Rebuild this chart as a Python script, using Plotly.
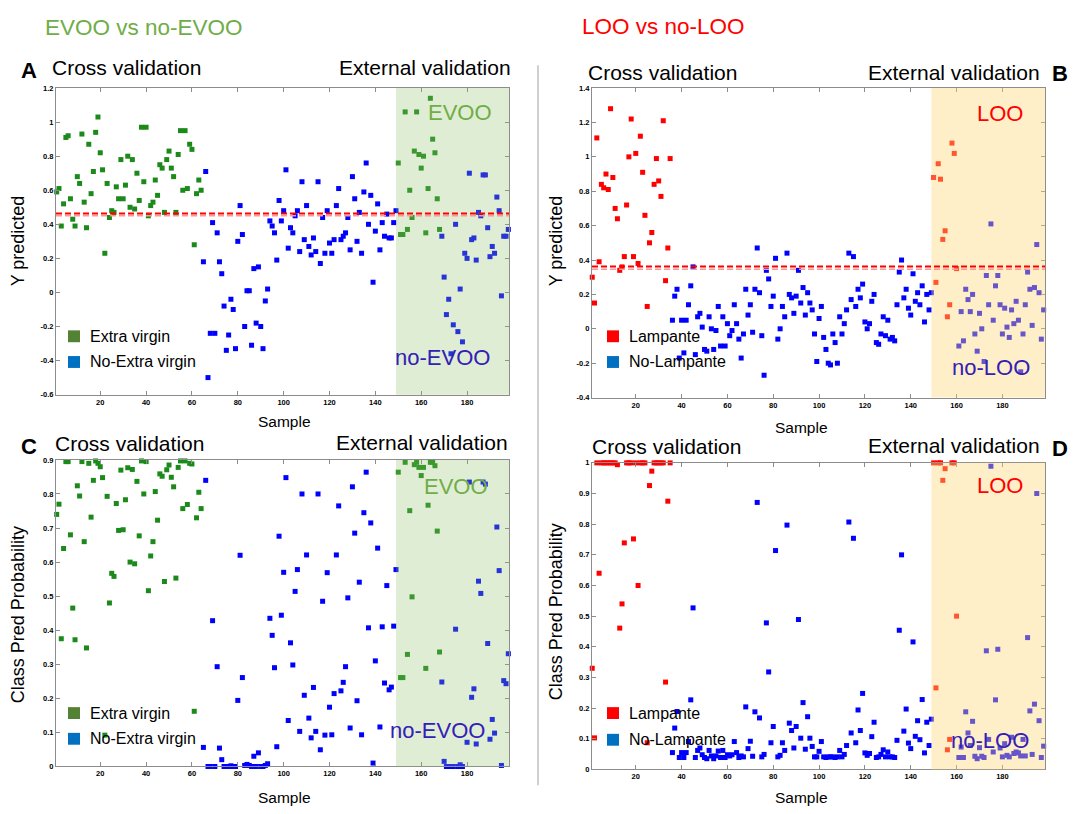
import plotly.graph_objects as go

W, H = 1078, 814

# ---------------- data ----------------
# Panel A : Y predicted (EVOO vs no-EVOO)
A_evoo_cv_x = list(range(1, 65))
A_evoo_cv_y = [0.59, 0.61, 0.39, 0.52, 0.91, 0.92, 0.55, 0.43, 0.39, 0.68,
               0.64, 0.93, 0.53, 0.38, 0.87, 0.58, 0.71, 0.94, 1.03, 0.82,
               0.72, 0.23, 0.64, 0.44, 0.48, 0.47, 0.62, 0.55, 0.78, 0.55,
               0.63, 0.80, 0.50, 0.78, 0.49, 0.70, 0.54, 0.97, 0.65, 0.97,
               0.45, 0.51, 0.53, 0.66, 0.57, 0.75, 0.73, 0.47, 0.78, 0.83,
               0.73, 0.68, 0.47, 0.81, 0.95, 0.60, 0.95, 0.61, 0.87, 0.84,
               0.28, 0.58, 0.66, 0.60]
A_no_cv_x = list(range(65, 150))
A_no_cv_y = [0.18, 0.71, -0.50, -0.24, 0.41, -0.24, 0.35, 0.18, 0.11, -0.08,
             -0.34, -0.25, -0.04, -0.10, -0.33, 0.30, 0.51, 0.34, -0.20, 0.01,
             0.01, -0.31, 0.14, -0.18, 0.15, -0.20, -0.33, -0.05, 0.02, 0.42,
             0.39, 0.35, 0.19, 0.54, 0.42, 0.48, 0.72, 0.26, 0.38, 0.35,
             0.45, 0.48, 0.24, 0.65, 0.31, 0.51, 0.27, 0.22, 0.32, 0.24,
             0.65, 0.17, 0.44, 0.23, 0.48, 0.29, 0.23, 0.31, 0.51, 0.61,
             0.31, 0.33, 0.35, 0.44, 0.25, 0.68, 0.55, 0.30, 0.47, 0.23,
             0.59, 0.76, 0.40, 0.57, 0.06, 0.36, 0.52, 0.25, 0.41, 0.33,
             0.46, 0.32, 0.32, 0.41, 0.48]
A_evoo_ext_x = list(range(150, 169))
A_evoo_ext_y = [0.76, 0.34, 0.34, 1.06, 0.37, 0.60, 0.44, 0.83, 1.06, 0.81,
                0.73, 0.80, 0.35, 0.61, 1.14, 0.90, 0.82, 0.55, 0.37]
A_no_ext_x = list(range(169, 199))
A_no_ext_y = [0.33, 0.09, -0.13, -0.04, -0.36, -0.19, 0.40, -0.23, 0.02, -0.29,
              0.23, 0.20, 0.70, 0.31, 0.32, 0.19, 0.47, 0.45, 0.69, 0.69,
              0.38, 0.21, 0.27, 0.23, 0.56, 0.48, -0.02, 0.33, 0.33, 0.37]
A_threshold = 0.463
A_threshold2 = 0.450

# Panel B : Y predicted (LOO vs no-LOO)
B_loo_cv_x = list(range(1, 36))
B_loo_cv_y = [0.30, 0.15, 1.11, 0.39, 0.84, 0.82, 0.90, 0.81, 1.28, 0.88,
              0.70, 0.64, 0.34, 0.36, 0.42, 0.72, 1.00, 1.22, 0.42, 1.02,
              0.38, 1.12, 0.91, 0.66, 0.13, 0.50, 0.56, 0.84, 0.99, 0.86,
              0.77, 1.21, 0.28, 0.47, 0.99]
B_no_cv_x = list(range(36, 150))
B_no_cv_y = [0.05, 0.19, 0.23, -0.17, 0.05, -0.14, 0.05, 0.14, 0.25, 0.36,
             -0.15, 0.07, 0.09, 0.01, -0.12, -0.13, 0.07, 0.00, -0.12, -0.01,
             0.13, -0.10, 0.07, -0.10, 0.03, -0.04, -0.01, 0.14, 0.03, -0.06,
             -0.17, -0.03, 0.23, 0.08, 0.14, -0.02, 0.23, 0.47, 0.21, -0.04,
             -0.27, 0.34, 0.29, 0.13, 0.19, 0.41, -0.06, 0.00, 0.13, 0.07,
             0.44, 0.20, 0.18, 0.09, 0.19, 0.34, 0.15, 0.24, 0.08, 0.21,
             0.15, 0.11, -0.03, -0.19, 0.06, 0.13, -0.05, -0.12, -0.20, -0.21,
             -0.03, -0.08, -0.20, 0.07, -0.03, 0.03, 0.11, 0.44, 0.17, 0.42,
             0.13, 0.23, 0.18, 0.26, 0.04, 0.00, 0.03, 0.16, 0.20, -0.08,
             -0.09, -0.03, 0.07, -0.04, 0.05, -0.06, -0.05, -0.07, 0.14, 0.33,
             0.40, 0.18, 0.23, 0.12, 0.08, 0.32, 0.16, 0.21, 0.14, 0.25,
             0.04, 0.20, 0.11, 0.21]
B_loo_ext_x = list(range(150, 161))
B_loo_ext_y = [0.88, 0.27, 0.96, 0.87, 0.52, 0.57, 0.07, 0.14, 1.08, 1.02, 0.35]
B_no_ext_x = list(range(161, 199))
B_no_ext_y = [-0.10, 0.10, -0.07, 0.23, 0.17, 0.10, 0.20, -0.03, -0.13, 0.09,
              0.00, -0.19, 0.31, 0.14, 0.61, 0.05, 0.25, 0.31, 0.14, -0.03,
              0.12, 0.01, -0.05, 0.11, 0.03, 0.16, 0.05, -0.25, -0.03, 0.14,
              0.33, 0.23, 0.02, 0.24, 0.49, 0.21, -0.06, 0.11]
B_threshold = 0.363
B_threshold2 = 0.347

# Panel C : Class Pred Probability (EVOO vs no-EVOO)
C_evoo_cv_x = list(range(1, 65))
C_evoo_cv_y = [0.740, 0.770, 0.375, 0.640, 0.895, 0.895, 0.680, 0.465, 0.372, 0.824,
               0.794, 0.895, 0.660, 0.348, 0.890, 0.732, 0.840, 0.897, 0.890, 0.880,
               0.848, 0.092, 0.793, 0.480, 0.567, 0.558, 0.772, 0.693, 0.870, 0.695,
               0.783, 0.877, 0.600, 0.872, 0.595, 0.837, 0.677, 0.897, 0.800, 0.895,
               0.516, 0.618, 0.660, 0.807, 0.723, 0.859, 0.852, 0.543, 0.871, 0.885,
               0.849, 0.821, 0.553, 0.878, 0.897, 0.757, 0.897, 0.769, 0.890, 0.888,
               0.162, 0.730, 0.805, 0.757]
C_no_cv_x = list(range(65, 150))
C_no_cv_y = [0.056, 0.840, 0.000, 0.000, 0.428, 0.000, 0.293, 0.054, 0.020, 0.000,
             0.000, 0.000, 0.002, 0.000, 0.000, 0.194, 0.620, 0.261, 0.003, 0.006,
             0.003, 0.000, 0.030, 0.000, 0.040, 0.000, 0.000, 0.003, 0.008, 0.435,
             0.385, 0.290, 0.058, 0.676, 0.444, 0.570, 0.848, 0.135, 0.363, 0.298,
             0.514, 0.578, 0.103, 0.800, 0.209, 0.621, 0.142, 0.084, 0.232, 0.103,
             0.800, 0.049, 0.485, 0.092, 0.569, 0.174, 0.093, 0.214, 0.621, 0.765,
             0.222, 0.247, 0.293, 0.495, 0.113, 0.821, 0.685, 0.193, 0.541, 0.093,
             0.745, 0.864, 0.407, 0.715, 0.010, 0.310, 0.641, 0.116, 0.410, 0.245,
             0.531, 0.225, 0.233, 0.412, 0.578]
C_evoo_ext_x = list(range(150, 169))
C_evoo_ext_y = [0.864, 0.261, 0.261, 0.893, 0.329, 0.751, 0.498, 0.886, 0.893, 0.878,
                0.854, 0.878, 0.288, 0.767, 0.893, 0.893, 0.883, 0.691, 0.336]
C_no_ext_x = [169, 170, 171, 172, 173, 174, 175, 176, 177, 178,
              180, 181, 182, 183, 184, 185, 186, 187, 188, 189,
              190, 191, 192, 193, 194, 195, 196, 197, 198]
C_no_ext_y = [0.248, 0.015, 0.000, 0.000, 0.000, 0.000, 0.403, 0.000, 0.005, 0.000,
              0.071, 0.835, 0.203, 0.228, 0.066, 0.544, 0.508, 0.835, 0.829, 0.361,
              0.080, 0.138, 0.098, 0.703, 0.575, 0.003, 0.252, 0.243, 0.331]

# Panel D : Class Pred Probability (LOO vs no-LOO)
D_loo_cv_x = list(range(1, 36))
D_loo_cv_y = [0.330, 0.103, 1.000, 0.640, 1.000, 1.000, 1.000, 1.000, 1.000, 1.000,
              1.000, 0.994, 0.461, 0.540, 0.739, 1.000, 1.000, 1.000, 0.752, 1.000,
              0.600, 1.000, 1.000, 1.000, 0.087, 0.926, 0.973, 1.000, 1.000, 1.000,
              1.000, 1.000, 0.285, 0.875, 1.000]
D_no_cv_x = list(range(36, 150))
D_no_cv_y = [0.055, 0.135, 0.189, 0.039, 0.055, 0.039, 0.055, 0.091, 0.227, 0.527,
             0.039, 0.062, 0.070, 0.048, 0.039, 0.035, 0.062, 0.044, 0.035, 0.044,
             0.060, 0.039, 0.062, 0.039, 0.048, 0.044, 0.048, 0.091, 0.055, 0.039,
             0.044, 0.041, 0.204, 0.068, 0.092, 0.043, 0.188, 0.871, 0.168, 0.041,
             0.049, 0.478, 0.318, 0.087, 0.140, 0.714, 0.041, 0.046, 0.087, 0.062,
             0.797, 0.151, 0.127, 0.070, 0.140, 0.489, 0.102, 0.218, 0.066, 0.172,
             0.102, 0.075, 0.041, 0.041, 0.059, 0.091, 0.041, 0.039, 0.041, 0.041,
             0.041, 0.039, 0.041, 0.062, 0.041, 0.049, 0.078, 0.807, 0.119, 0.754,
             0.087, 0.194, 0.127, 0.248, 0.054, 0.046, 0.052, 0.107, 0.154, 0.039,
             0.041, 0.049, 0.064, 0.041, 0.057, 0.041, 0.041, 0.039, 0.095, 0.454,
             0.700, 0.125, 0.197, 0.086, 0.068, 0.416, 0.108, 0.159, 0.097, 0.228,
             0.054, 0.154, 0.078, 0.164]
D_loo_ext_x = list(range(150, 161))
D_loo_ext_y = [1.000, 0.266, 1.000, 1.000, 0.943, 0.981, 0.064, 0.098, 1.000, 1.000, 0.500]
D_no_ext_x = list(range(161, 199))
D_no_ext_y = [0.039, 0.073, 0.039, 0.188, 0.119, 0.078, 0.157, 0.043, 0.035, 0.071,
              0.043, 0.039, 0.387, 0.098, 0.989, 0.057, 0.227, 0.392, 0.070, 0.041,
              0.084, 0.046, 0.041, 0.105, 0.052, 0.057, 0.054, 0.044, 0.098, 0.044,
              0.430, 0.191, 0.049, 0.213, 0.900, 0.159, 0.039, 0.076]

ext_start = 149

x_ticks = [20, 40, 60, 80, 100, 120, 140, 160, 180]
A_yticks = [-0.6, -0.4, -0.2, 0, 0.2, 0.4, 0.6, 0.8, 1, 1.2]
A_yticktext = ["-0.6", "-0.4", "-0.2", "0", "0.2", "0.4", "0.6", "0.8", "1", "1.2"]
B_yticks = [-0.4, -0.2, 0, 0.2, 0.4, 0.6, 0.8, 1, 1.2, 1.4]
B_yticktext = ["-0.4", "-0.2", "0", "0.2", "0.4", "0.6", "0.8", "1", "1.2", "1.4"]
C_yticks = [0, 0.1, 0.2, 0.3, 0.4, 0.5, 0.6, 0.7, 0.8, 0.9]
C_yticktext = ["0", "0.1", "0.2", "0.3", "0.4", "0.5", "0.6", "0.7", "0.8", "0.9"]
D_yticks = [0, 0.1, 0.2, 0.3, 0.4, 0.5, 0.6, 0.7, 0.8, 0.9, 1]
D_yticktext = ["0", "0.1", "0.2", "0.3", "0.4", "0.5", "0.6", "0.7", "0.8", "0.9", "1"]

# ---------------- style ----------------
FONT = "Liberation Sans, Arial, sans-serif"
GREEN_PT = "#1b8a1b"
BLUE_PT = "#0000ff"
RED_PT = "#ff0000"
GREEN_LEG = "#548235"
BLUE_LEG = "#0070c0"
RED_LEG = "#ff0000"
GREEN_TXT = "#70ad47"
NAVY_TXT = "#3320b4"
AXIS_COL = "#8c8c8c"

A_xr = [0.7, 198.3]
B_xr = [0.9, 198.6]


def px_x(x):
    return x / W


def px_y(y):
    return 1 - y / H


fig = go.Figure()


def add_pts(x, y, color, xa, ya):
    fig.add_trace(go.Scatter(
        x=x, y=y, mode="markers", xaxis=xa, yaxis=ya, cliponaxis=False,
        marker=dict(symbol="square", size=5, color=color, line=dict(width=0)),
        showlegend=False, hoverinfo="x+y"))


add_pts(A_evoo_cv_x, A_evoo_cv_y, GREEN_PT, "x", "y")
add_pts(A_no_cv_x, A_no_cv_y, BLUE_PT, "x", "y")
add_pts(A_evoo_ext_x, A_evoo_ext_y, GREEN_PT, "x", "y")
add_pts(A_no_ext_x, A_no_ext_y, BLUE_PT, "x", "y")

add_pts(B_loo_cv_x, B_loo_cv_y, RED_PT, "x2", "y2")
add_pts(B_no_cv_x, B_no_cv_y, BLUE_PT, "x2", "y2")
add_pts(B_loo_ext_x, B_loo_ext_y, RED_PT, "x2", "y2")
add_pts(B_no_ext_x, B_no_ext_y, BLUE_PT, "x2", "y2")

add_pts(C_evoo_cv_x, C_evoo_cv_y, GREEN_PT, "x3", "y3")
add_pts(C_no_cv_x, C_no_cv_y, BLUE_PT, "x3", "y3")
add_pts(C_evoo_ext_x, C_evoo_ext_y, GREEN_PT, "x3", "y3")
add_pts(C_no_ext_x, C_no_ext_y, BLUE_PT, "x3", "y3")

add_pts(D_loo_cv_x, D_loo_cv_y, RED_PT, "x4", "y4")
add_pts(D_no_cv_x, D_no_cv_y, BLUE_PT, "x4", "y4")
add_pts(D_loo_ext_x, D_loo_ext_y, RED_PT, "x4", "y4")
add_pts(D_no_ext_x, D_no_ext_y, BLUE_PT, "x4", "y4")

axis_common = dict(showline=True, linecolor=AXIS_COL, linewidth=1, mirror="ticks",
                   ticks="inside", ticklen=4, tickcolor=AXIS_COL, showgrid=False,
                   zeroline=False,
                   tickfont=dict(family="Liberation Sans, Arial", size=7.5, color="black",
                                 weight="bold"))

dom_left = [56 / W, 509 / W]
dom_right = [592 / W, 1045 / W]

fig.update_layout(
    width=W, height=H, margin=dict(l=0, r=0, t=0, b=0),
    paper_bgcolor="white", plot_bgcolor="white", showlegend=False,
    xaxis=dict(domain=dom_left, range=A_xr, tickvals=x_ticks, anchor="y", **axis_common),
    yaxis=dict(domain=[px_y(395), px_y(85)], range=[-0.6, 1.2], tickvals=A_yticks,
               ticktext=A_yticktext, anchor="x", **axis_common),
    xaxis2=dict(domain=dom_right, range=B_xr, tickvals=x_ticks, anchor="y2", **axis_common),
    yaxis2=dict(domain=[px_y(398), px_y(85)], range=[-0.4, 1.4], tickvals=B_yticks,
                ticktext=B_yticktext, anchor="x2", **axis_common),
    xaxis3=dict(domain=dom_left, range=A_xr, tickvals=x_ticks, anchor="y3", **axis_common),
    yaxis3=dict(domain=[px_y(771), px_y(461)], range=[0, 0.9], tickvals=C_yticks,
                ticktext=C_yticktext, anchor="x3", **axis_common),
    xaxis4=dict(domain=dom_right, range=B_xr, tickvals=x_ticks, anchor="y4", **axis_common),
    yaxis4=dict(domain=[px_y(774), px_y(464)], range=[0, 1], tickvals=D_yticks,
                ticktext=D_yticktext, anchor="x4", **axis_common),
)

# external-validation shading (drawn above the points, translucent)
for xr_, yr_, xrange_, col, op in [("x", "y domain", A_xr, "rgb(140,190,100)", 0.28),
                                  ("x3", "y3 domain", A_xr, "rgb(140,190,100)", 0.28),
                                  ("x2", "y2 domain", B_xr, "rgb(255,215,117)", 0.40),
                                  ("x4", "y4 domain", B_xr, "rgb(255,215,117)", 0.40)]:
    fig.add_shape(type="rect", xref=xr_, yref=yr_, x0=ext_start, x1=xrange_[1], y0=0, y1=1,
                  fillcolor=col, opacity=op, line=dict(width=0), layer="above")

# threshold lines
for xr_, yr_, t1, t2 in [("x domain", "y", A_threshold, A_threshold2),
                         ("x2 domain", "y2", B_threshold, B_threshold2)]:
    fig.add_shape(type="line", xref=xr_, yref=yr_, x0=0, x1=1, y0=t2, y1=t2,
                  line=dict(color="rgb(255,150,150)", width=1.5, dash="6px,3px"), layer="above")
    fig.add_shape(type="line", xref=xr_, yref=yr_, x0=0, x1=1, y0=t1, y1=t1,
                  line=dict(color="red", width=2, dash="6px,3px"), layer="above")

# divider line
fig.add_shape(type="line", xref="paper", yref="paper", x0=px_x(538), x1=px_x(538),
              y0=px_y(62), y1=px_y(790), line=dict(color="#a0a0a0", width=1))

annotations = []


def ann(text, x, y, size, color="black", xanchor="center", angle=0, bold=False, family=FONT):
    annotations.append(dict(text=text, x=px_x(x), y=px_y(y), xref="paper", yref="paper",
                            xanchor=xanchor, yanchor="middle", showarrow=False, textangle=angle,
                            font=dict(family=family, size=size, color=color,
                                      weight="bold" if bold else "normal")))


# headers
ann("EVOO vs no-EVOO", 144, 24, 22.5, GREEN_TXT)
ann("LOO vs no-LOO", 663, 23, 22.5, RED_LEG)

# panel letters
ann("A", 28.5, 67, 22, bold=True)
ann("B", 1060, 70, 22, bold=True)
ann("C", 28.5, 447, 22, bold=True)
ann("D", 1060, 449, 22, bold=True)

# cross / external validation titles
ann("Cross validation", 50, 64, 21, xanchor="left")
ann("External validation", 513, 64, 21, xanchor="right")
ann("Cross validation", 586, 69, 21, xanchor="left")
ann("External validation", 1042, 69, 21, xanchor="right")
ann("Cross validation", 53, 444, 21, xanchor="left")
ann("External validation", 510, 443, 21, xanchor="right")
ann("Cross validation", 590, 447, 21, xanchor="left")
ann("External validation", 1042, 446, 21, xanchor="right")

# axis titles
ann("Y predicted", 18, 240, 18, angle=-90)
ann("Y predicted", 556, 240, 18, angle=-90)
ann("Class Pred Probability", 18, 618, 18, angle=-90)
ann("Class Pred Probability", 556, 615, 18, angle=-90)
ann("Sample", 284, 422, 15.5)
ann("Sample", 801, 428, 15.5)
ann("Sample", 284, 802, 15.5)
ann("Sample", 801, 802, 15.5)

# in-plot class labels
ann("EVOO", 460, 110, 22, GREEN_TXT)
ann("no-EVOO", 442, 357, 22, NAVY_TXT)
ann("EVOO", 456, 488, 22, GREEN_TXT)
ann("no-EVOO", 437, 735, 22, NAVY_TXT)
ann("LOO", 1000, 111, 22, RED_LEG)
ann("no-LOO", 991, 368, 22, NAVY_TXT)
ann("LOO", 1000, 487, 22, RED_LEG)
ann("no-LOO", 990, 745, 22, NAVY_TXT)

# legends (square + label)
legend_items = [
    (74, 336, GREEN_LEG, "Extra virgin"), (74, 362, BLUE_LEG, "No-Extra virgin"),
    (613, 336, RED_LEG, "Lampante"), (613, 362, BLUE_LEG, "No-Lampante"),
    (74, 717, GREEN_LEG, "Extra virgin"), (74, 743, BLUE_LEG, "No-Extra virgin"),
    (613, 717, RED_LEG, "Lampante"), (613, 744, BLUE_LEG, "No-Lampante"),
]
for cx, cy, col, label in legend_items:
    fig.add_shape(type="rect", xref="paper", yref="paper",
                  x0=px_x(cx - 6), x1=px_x(cx + 6), y0=px_y(cy + 6), y1=px_y(cy - 6),
                  fillcolor=col, line=dict(width=0))
    ann(label, cx + 14, cy, 16, xanchor="left")

fig.update_layout(annotations=annotations)
fig.write_html("out.html",
               config={"displayModeBar": False},
               post_script="document.body.style.margin='0px';"
                           "document.body.style.overflow='hidden';")
